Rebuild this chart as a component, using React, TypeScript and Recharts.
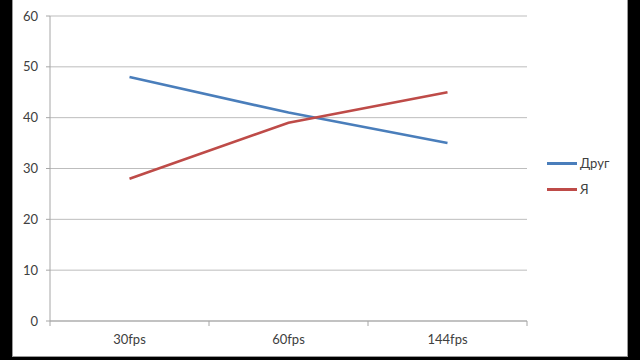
import React from "react";
import {
  LineChart,
  Line,
  XAxis,
  YAxis,
  CartesianGrid,
  Legend,
} from "recharts";

// categories along the x axis
const categories: string[] = ["30fps", "60fps", "144fps"];

// values
const friendValues: number[] = [48, 41, 35];
const meValues: number[] = [28, 39, 45];

const yTicks: number[] = [0, 10, 20, 30, 40, 50, 60];

const series = [
  { key: "friend", name: "Друг", color: "#4a7ebb" },
  { key: "me", name: "Я", color: "#be4b48" },
];

// x is placed in the middle of each category band, so the band edges can carry the tick marks
const data = categories.map((c, i) => ({
  x: i + 0.5,
  label: c,
  friend: friendValues[i],
  me: meValues[i],
}));

const xTicks: number[] = [];
for (let i = 0; i <= categories.length; i++) {
  xTicks.push(i);
  if (i < categories.length) xTicks.push(i + 0.5);
}

const font = "Lato, 'Liberation Sans', sans-serif";

const XTick = (props: any) => {
  const { x, y, payload } = props;
  const v = payload.value as number;
  if (Number.isInteger(v)) {
    return <line x1={x} y1={y} x2={x} y2={y + 5} stroke="#a6a6a6" strokeWidth={1} />;
  }
  return (
    <text x={x} y={y + 23} textAnchor="middle" fill="#404040" fontSize={13} fontFamily={font}>
      {categories[Math.floor(v)]}
    </text>
  );
};

const LegendContent = () => (
  <div style={{ fontFamily: font, fontSize: 13, color: "#404040" }}>
    {series.map((s) => (
      <div key={s.key} style={{ display: "flex", alignItems: "center", height: 26 }}>
        <div style={{ width: 30, height: 3, background: s.color, marginRight: 3 }} />
        <span>{s.name}</span>
      </div>
    ))}
  </div>
);

export default function App() {
  return (
    <div
      style={{
        position: "fixed",
        left: 0,
        top: 0,
        width: 640,
        height: 360,
        background: "#000",
        overflow: "hidden",
      }}
    >
      <div
        style={{
          position: "absolute",
          left: 12,
          top: -1,
          width: 614,
          height: 356,
          background: "#fff",
          border: "1px solid #9a9a9a",
        }}
      />
      <div style={{ position: "absolute", left: 0, top: 0 }}>
        <LineChart
          width={640}
          height={360}
          data={data}
          margin={{ top: 16, right: 33, bottom: 14, left: 12 }}
        >
          <CartesianGrid vertical={false} stroke="#bdbdbd" strokeWidth={1} />
          <XAxis
            dataKey="x"
            type="number"
            domain={[0, categories.length]}
            ticks={xTicks}
            interval={0}
            height={25}
            tickLine={false}
            tickSize={0}
            tickMargin={0}
            stroke="#a6a6a6"
            tick={<XTick />}
          />
          <YAxis
            domain={[0, 60]}
            ticks={yTicks}
            width={38}
            tickSize={4}
            tickMargin={8}
            stroke="#a6a6a6"
            tick={{ fill: "#404040", fontSize: 13, fontFamily: font }}
          />
          <Legend
            layout="vertical"
            align="right"
            verticalAlign="middle"
            wrapperStyle={{ left: 547, top: 150, width: 80 }}
            content={<LegendContent />}
          />
          {series.map((s) => (
            <Line
              key={s.key}
              dataKey={s.key}
              name={s.name}
              stroke={s.color}
              strokeWidth={2.6}
              dot={false}
              isAnimationActive={false}
            />
          ))}
        </LineChart>
      </div>
    </div>
  );
}
